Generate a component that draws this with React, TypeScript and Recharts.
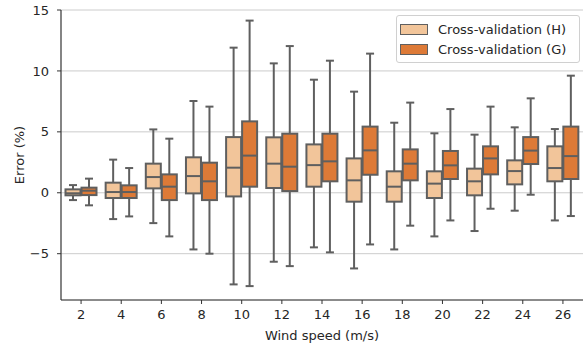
import React from 'react';
import { ComposedChart, Bar, XAxis, YAxis, CartesianGrid, Legend } from 'recharts';

const windSpeeds = ['2', '4', '6', '8', '10', '12', '14', '16', '18', '20', '22', '24', '26'];

const hMin = [-0.6, -2.16, -2.49, -4.65, -7.52, -5.66, -4.48, -6.21, -4.65, -3.58, -3.14, -1.47, -2.27];
const hQ1 = [-0.21, -0.43, 0.36, -0.05, -0.3, 0.39, 0.5, -0.73, -0.73, -0.43, -0.21, 0.69, 0.94];
const hMed = [-0.04, 0.06, 1.29, 1.37, 2.06, 2.39, 2.27, 1.02, 0.5, 0.75, 0.94, 1.78, 2.03];
const hQ3 = [0.28, 0.83, 2.39, 2.91, 4.57, 4.55, 3.97, 2.82, 1.76, 1.76, 1.98, 2.66, 3.81];
const hMax = [0.63, 2.72, 5.2, 7.53, 11.91, 10.62, 9.28, 8.3, 5.75, 4.88, 4.77, 5.37, 5.23];

const gMin = [-1.03, -1.94, -3.58, -5.0, -7.66, -6.02, -4.89, -4.24, -2.7, -2.27, -1.31, -0.16, -1.91];
const gQ1 = [-0.19, -0.43, -0.6, -0.6, 0.5, 0.14, 0.94, 1.48, 1.02, 1.13, 1.51, 2.36, 1.13];
const gMed = [0.17, 0.06, 0.5, 0.94, 3.05, 2.14, 2.58, 3.48, 2.39, 2.25, 2.82, 3.46, 3.01];
const gQ3 = [0.42, 0.61, 1.51, 2.47, 5.86, 4.85, 4.85, 5.43, 3.56, 3.43, 3.81, 4.57, 5.43];
const gMax = [1.16, 2.03, 4.44, 7.07, 14.13, 12.04, 10.84, 11.42, 7.4, 6.87, 7.07, 7.75, 9.61];

const yTicks = [-5, 0, 5, 10, 15];

const seriesNames = ['Cross-validation (H)', 'Cross-validation (G)'];
const H_FILL = '#f2c59a';
const G_FILL = '#dd7a37';
const LINE = '#5f5f5f';
const FONT = "'DejaVu Sans', sans-serif";
const TEXT = '#262626';

const data = windSpeeds.map((x, i) => ({
  x,
  h: { min: hMin[i], q1: hQ1[i], med: hMed[i], q3: hQ3[i], max: hMax[i] },
  g: { min: gMin[i], q1: gQ1[i], med: gMed[i], q3: gQ3[i], max: gMax[i] },
}));

const makeBox = (key: 'h' | 'g', fill: string) => (props: any) => {
  const { x, y, width, height, payload } = props;
  if (x == null || y == null || !payload) return <g />;
  const s = payload[key];
  const top = Math.min(y, y + height);
  const bottom = Math.max(y, y + height);
  const span = s.max - s.min;
  const py = (v: number) => top + ((s.max - v) / span) * (bottom - top);
  const cx = x + width / 2;
  const capHalf = width / 4;
  const yQ1 = py(s.q1);
  const yQ3 = py(s.q3);
  const yMed = py(s.med);
  return (
    <g>
      <line x1={cx} x2={cx} y1={top} y2={yQ3} stroke={LINE} strokeWidth={2} />
      <line x1={cx} x2={cx} y1={yQ1} y2={bottom} stroke={LINE} strokeWidth={2} />
      <line x1={cx - capHalf} x2={cx + capHalf} y1={top} y2={top} stroke={LINE} strokeWidth={2} />
      <line x1={cx - capHalf} x2={cx + capHalf} y1={bottom} y2={bottom} stroke={LINE} strokeWidth={2} />
      <rect x={x + 0.5} y={yQ3} width={width - 1} height={Math.max(0.5, yQ1 - yQ3)} fill={fill} stroke={LINE} strokeWidth={2} />
      <line x1={x + 0.5} x2={x + width - 0.5} y1={yMed} y2={yMed} stroke={LINE} strokeWidth={2} />
    </g>
  );
};

const HBox = makeBox('h', H_FILL);
const GBox = makeBox('g', G_FILL);

const LegendContent = () => (
  <div
    style={{
      boxSizing: 'border-box',
      width: 184,
      height: 48,
      border: '1px solid #d0d0d0',
      borderRadius: 3,
      background: 'rgba(255,255,255,0.85)',
      padding: '3px 0 3px 3px',
      fontFamily: FONT,
      fontSize: 13,
      color: TEXT,
    }}
  >
    {[H_FILL, G_FILL].map((c, i) => (
      <div key={i} style={{ height: 20, display: 'flex', alignItems: 'center' }}>
        <div style={{ boxSizing: 'border-box', width: 28, height: 11, background: c, border: `1px solid ${LINE}`, marginRight: 10 }} />
        <span style={{ whiteSpace: 'nowrap' }}>{seriesNames[i]}</span>
      </div>
    ))}
  </div>
);

const fmt = (v: number) => String(v).replace('-', '\u2212');

export default function App() {
  return (
    <div style={{ position: 'absolute', left: 0, top: 0, width: 585, height: 349, background: '#fff' }}>
      <ComposedChart
        width={585}
        height={349}
        data={data}
        margin={{ top: 10, right: 2, bottom: 0, left: 0 }}
        barGap={0}
        style={{ fontFamily: FONT }}
      >
        <CartesianGrid vertical={false} stroke="#cccccc" strokeWidth={1} />
        <XAxis
          dataKey="x"
          height={49}
          tickSize={4}
          tickMargin={6}
          tick={{ fill: TEXT, fontSize: 13, fontFamily: FONT }}
          tickLine={{ stroke: '#333' }}
          axisLine={{ stroke: '#333', strokeWidth: 1.2 }}
          label={{ value: 'Wind speed (m/s)', position: 'insideBottom', offset: 9, fill: TEXT, fontSize: 13, fontFamily: FONT }}
        />
        <XAxis xAxisId="top" dataKey="x" orientation="top" height={0} tick={false} tickLine={false} axisLine={{ stroke: '#333', strokeWidth: 1.2 }} />
        <YAxis
          type="number"
          domain={[-8.8, 15]}
          ticks={yTicks}
          allowDataOverflow
          width={61}
          tickSize={4}
          tickMargin={8}
          tickFormatter={fmt}
          tick={{ fill: TEXT, fontSize: 13, fontFamily: FONT }}
          tickLine={{ stroke: '#333' }}
          axisLine={{ stroke: '#333', strokeWidth: 1.2 }}
          label={{
            content: (p: any) => {
              const vb = p.viewBox || {};
              const cx = 19;
              const cy = (vb.y ?? 10) + (vb.height ?? 290) / 2;
              return (
                <text x={cx} y={cy} transform={`rotate(-90 ${cx} ${cy})`} textAnchor="middle" dominantBaseline="central" fill={TEXT} fontSize={13} fontFamily={FONT}>
                  Error (%)
                </text>
              );
            },
          }}
        />
        <YAxis yAxisId="right" orientation="right" width={0} domain={[-8.8, 15]} tick={false} tickLine={false} axisLine={{ stroke: '#333', strokeWidth: 1.2 }} />
        <Legend
          layout="vertical"
          align="center"
          verticalAlign="middle"
          wrapperStyle={{ top: 15, left: 396, width: 184, height: 48 }}
          content={<LegendContent />}
        />
        <Bar dataKey={(d: any) => [d.h.min, d.h.max]} name={seriesNames[0]} barSize={16} fill={H_FILL} shape={HBox} isAnimationActive={false} />
        <Bar dataKey={(d: any) => [d.g.min, d.g.max]} name={seriesNames[1]} barSize={16} fill={G_FILL} shape={GBox} isAnimationActive={false} />
      </ComposedChart>
    </div>
  );
}
